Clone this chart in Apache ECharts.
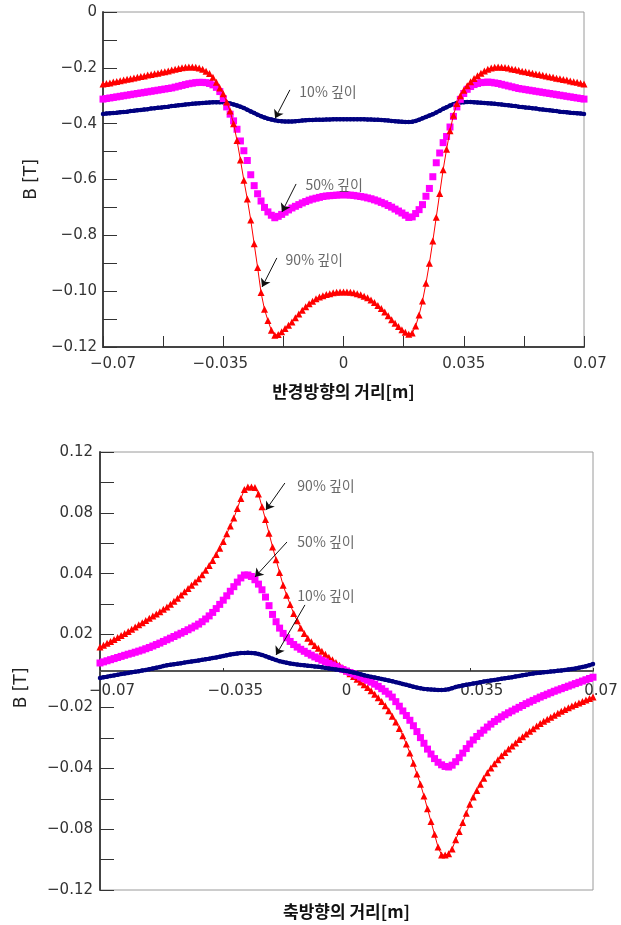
<!DOCTYPE html>
<html>
<head>
<meta charset="utf-8">
<script src="https://cdn.jsdelivr.net/npm/echarts@6/dist/echarts.min.js"></script>
<style>
html, body { margin: 0; padding: 0; background: #fff; }
#chart { width: 621px; height: 925px; }
</style>
</head>
<body>
<div id="chart"></div>
<script>
// 거리 [m], 0.001 간격
var xs = [
  -0.070,-0.069,-0.068,-0.067,-0.066,-0.065,-0.064,-0.063,-0.062,-0.061,
  -0.060,-0.059,-0.058,-0.057,-0.056,-0.055,-0.054,-0.053,-0.052,-0.051,
  -0.050,-0.049,-0.048,-0.047,-0.046,-0.045,-0.044,-0.043,-0.042,-0.041,
  -0.040,-0.039,-0.038,-0.037,-0.036,-0.035,-0.034,-0.033,-0.032,-0.031,
  -0.030,-0.029,-0.028,-0.027,-0.026,-0.025,-0.024,-0.023,-0.022,-0.021,
  -0.020,-0.019,-0.018,-0.017,-0.016,-0.015,-0.014,-0.013,-0.012,-0.011,
  -0.010,-0.009,-0.008,-0.007,-0.006,-0.005,-0.004,-0.003,-0.002,-0.001,
  0,
  0.001,0.002,0.003,0.004,0.005,0.006,0.007,0.008,0.009,0.010,
  0.011,0.012,0.013,0.014,0.015,0.016,0.017,0.018,0.019,0.020,
  0.021,0.022,0.023,0.024,0.025,0.026,0.027,0.028,0.029,0.030,
  0.031,0.032,0.033,0.034,0.035,0.036,0.037,0.038,0.039,0.040,
  0.041,0.042,0.043,0.044,0.045,0.046,0.047,0.048,0.049,0.050,
  0.051,0.052,0.053,0.054,0.055,0.056,0.057,0.058,0.059,0.060,
  0.061,0.062,0.063,0.064,0.065,0.066,0.067,0.068,0.069,0.070
];

// 반경방향 (위 그래프)
var top10 = [
  -0.365,-0.364,-0.363,-0.362,-0.361,-0.359,-0.358,-0.357,-0.355,-0.354,
  -0.352,-0.351,-0.349,-0.348,-0.346,-0.345,-0.343,-0.342,-0.340,-0.339,
  -0.337,-0.336,-0.334,-0.333,-0.331,-0.330,-0.329,-0.328,-0.327,-0.326,
  -0.325,-0.324,-0.323,-0.323,-0.323,-0.323,-0.325,-0.328,-0.331,-0.335,
  -0.339,-0.344,-0.350,-0.356,-0.362,-0.368,-0.373,-0.378,-0.382,-0.385,
  -0.388,-0.390,-0.391,-0.392,-0.392,-0.392,-0.391,-0.390,-0.389,-0.388,
  -0.387,-0.387,-0.386,-0.386,-0.386,-0.385,-0.385,-0.384,-0.384,-0.384,
  -0.384,
  -0.384,-0.384,-0.384,-0.384,-0.384,-0.384,-0.385,-0.385,-0.386,-0.386,
  -0.387,-0.388,-0.389,-0.390,-0.391,-0.392,-0.393,-0.394,-0.394,-0.393,
  -0.390,-0.386,-0.381,-0.376,-0.371,-0.366,-0.360,-0.354,-0.347,-0.341,
  -0.335,-0.330,-0.326,-0.324,-0.323,-0.322,-0.322,-0.323,-0.324,-0.325,
  -0.326,-0.327,-0.328,-0.329,-0.330,-0.331,-0.333,-0.334,-0.336,-0.337,
  -0.339,-0.340,-0.342,-0.343,-0.345,-0.346,-0.348,-0.349,-0.351,-0.352,
  -0.354,-0.355,-0.357,-0.358,-0.359,-0.361,-0.362,-0.363,-0.364,-0.365
];
var top50 = [
  -0.312,-0.310,-0.308,-0.306,-0.304,-0.302,-0.300,-0.298,-0.296,-0.294,
  -0.292,-0.290,-0.288,-0.286,-0.284,-0.282,-0.280,-0.278,-0.276,-0.274,
  -0.272,-0.269,-0.266,-0.263,-0.260,-0.257,-0.255,-0.253,-0.252,-0.252,
  -0.253,-0.256,-0.261,-0.270,-0.285,-0.310,-0.340,-0.366,-0.390,-0.420,
  -0.462,-0.497,-0.532,-0.583,-0.622,-0.651,-0.677,-0.700,-0.716,-0.728,
  -0.737,-0.732,-0.725,-0.717,-0.709,-0.702,-0.696,-0.690,-0.684,-0.679,
  -0.674,-0.670,-0.667,-0.664,-0.661,-0.659,-0.658,-0.657,-0.656,-0.655,
  -0.655,
  -0.655,-0.656,-0.657,-0.659,-0.661,-0.663,-0.666,-0.669,-0.673,-0.677,
  -0.682,-0.687,-0.693,-0.699,-0.706,-0.713,-0.720,-0.728,-0.736,-0.734,
  -0.722,-0.708,-0.690,-0.660,-0.632,-0.590,-0.540,-0.505,-0.468,-0.446,
  -0.412,-0.374,-0.340,-0.313,-0.292,-0.277,-0.267,-0.260,-0.256,-0.253,
  -0.252,-0.251,-0.252,-0.254,-0.256,-0.259,-0.262,-0.265,-0.268,-0.271,
  -0.274,-0.276,-0.278,-0.280,-0.282,-0.284,-0.286,-0.288,-0.290,-0.292,
  -0.294,-0.296,-0.298,-0.300,-0.302,-0.304,-0.306,-0.308,-0.310,-0.312
];
var top90 = [
  -0.258,-0.256,-0.254,-0.251,-0.249,-0.246,-0.244,-0.241,-0.239,-0.236,
  -0.234,-0.231,-0.229,-0.226,-0.224,-0.221,-0.219,-0.216,-0.214,-0.211,
  -0.208,-0.205,-0.202,-0.200,-0.198,-0.197,-0.197,-0.198,-0.201,-0.205,
  -0.212,-0.220,-0.234,-0.252,-0.272,-0.293,-0.322,-0.355,-0.400,-0.460,
  -0.530,-0.603,-0.670,-0.745,-0.830,-0.915,-1.005,-1.065,-1.105,-1.140,
  -1.158,-1.155,-1.145,-1.134,-1.122,-1.110,-1.095,-1.082,-1.068,-1.056,
  -1.045,-1.036,-1.027,-1.021,-1.016,-1.012,-1.009,-1.006,-1.004,-1.003,
  -1.003,
  -1.003,-1.004,-1.006,-1.009,-1.013,-1.018,-1.024,-1.032,-1.041,-1.051,
  -1.062,-1.075,-1.088,-1.102,-1.115,-1.127,-1.138,-1.147,-1.154,-1.150,
  -1.125,-1.085,-1.035,-0.972,-0.900,-0.820,-0.735,-0.650,-0.565,-0.492,
  -0.425,-0.370,-0.328,-0.300,-0.280,-0.264,-0.250,-0.238,-0.228,-0.219,
  -0.211,-0.205,-0.201,-0.198,-0.197,-0.198,-0.199,-0.201,-0.204,-0.206,
  -0.209,-0.212,-0.214,-0.217,-0.219,-0.222,-0.224,-0.227,-0.229,-0.232,
  -0.234,-0.237,-0.239,-0.242,-0.244,-0.247,-0.250,-0.252,-0.255,-0.258
];

// 축방향 (아래 그래프)
var bot10 = [
  -0.0038,-0.0034,-0.0031,-0.0027,-0.0024,-0.0021,-0.0017,-0.0014,-0.0011,-0.0007,
  -0.0004,-0.0001,0.0003,0.0006,0.0010,0.0014,0.0018,0.0022,0.0027,0.0031,
  0.0034,0.0037,0.0040,0.0043,0.0046,0.0049,0.0052,0.0055,0.0058,0.0061,
  0.0064,0.0067,0.0071,0.0074,0.0078,0.0082,0.0086,0.0090,0.0093,0.0096,
  0.0098,0.0099,0.0100,0.0099,0.0097,0.0093,0.0088,0.0081,0.0074,0.0067,
  0.0060,0.0054,0.0049,0.0045,0.0041,0.0038,0.0035,0.0033,0.0031,0.0029,
  0.0027,0.0025,0.0023,0.0020,0.0017,0.0014,0.0011,0.0008,0.0005,0.0003,
  0,
  -0.0004,-0.0008,-0.0013,-0.0018,-0.0023,-0.0028,-0.0032,-0.0036,-0.0040,-0.0044,
  -0.0048,-0.0052,-0.0056,-0.0061,-0.0066,-0.0071,-0.0076,-0.0081,-0.0086,-0.0091,
  -0.0095,-0.0098,-0.0100,-0.0102,-0.0103,-0.0104,-0.0104,-0.0103,-0.0100,-0.0094,
  -0.0088,-0.0083,-0.0079,-0.0075,-0.0072,-0.0069,-0.0066,-0.0062,-0.0058,-0.0055,
  -0.0052,-0.0049,-0.0046,-0.0043,-0.0040,-0.0037,-0.0034,-0.0030,-0.0027,-0.0023,
  -0.0020,-0.0017,-0.0014,-0.0011,-0.0009,-0.0007,-0.0005,-0.0003,-0.0001,0.0001,
  0.0003,0.0005,0.0008,0.0011,0.0014,0.0018,0.0022,0.0026,0.0032,0.0038
];
var bot50 = [
  0.0044,0.0050,0.0056,0.0062,0.0068,0.0074,0.0080,0.0086,0.0092,0.0097,
  0.0103,0.0109,0.0115,0.0122,0.0129,0.0137,0.0145,0.0153,0.0162,0.0171,
  0.0180,0.0189,0.0198,0.0207,0.0216,0.0226,0.0236,0.0246,0.0257,0.0270,
  0.0285,0.0302,0.0321,0.0342,0.0365,0.0388,0.0412,0.0437,0.0462,0.0487,
  0.0510,0.0526,0.0526,0.0518,0.0500,0.0476,0.0445,0.0405,0.0358,0.0310,
  0.0270,0.0235,0.0206,0.0182,0.0162,0.0145,0.0131,0.0119,0.0108,0.0097,
  0.0087,0.0077,0.0068,0.0059,0.0050,0.0041,0.0033,0.0025,0.0016,0.0008,
  0,
  -0.0008,-0.0016,-0.0024,-0.0033,-0.0042,-0.0051,-0.0061,-0.0072,-0.0084,-0.0097,
  -0.0111,-0.0126,-0.0143,-0.0168,-0.0193,-0.0219,-0.0244,-0.0270,-0.0300,-0.0332,
  -0.0365,-0.0396,-0.0428,-0.0455,-0.0480,-0.0500,-0.0514,-0.0523,-0.0526,-0.0516,
  -0.0497,-0.0475,-0.0450,-0.0425,-0.0400,-0.0378,-0.0359,-0.0341,-0.0324,-0.0307,
  -0.0291,-0.0277,-0.0264,-0.0251,-0.0240,-0.0229,-0.0219,-0.0209,-0.0199,-0.0189,
  -0.0179,-0.0170,-0.0161,-0.0152,-0.0143,-0.0135,-0.0127,-0.0119,-0.0111,-0.0104,
  -0.0097,-0.0090,-0.0083,-0.0076,-0.0069,-0.0062,-0.0055,-0.0048,-0.0041,-0.0034
];
var bot90 = [
  0.0131,0.0141,0.0152,0.0162,0.0173,0.0183,0.0194,0.0205,0.0217,0.0229,
  0.0241,0.0253,0.0265,0.0277,0.0289,0.0301,0.0313,0.0325,0.0338,0.0351,
  0.0366,0.0382,0.0399,0.0416,0.0434,0.0452,0.0470,0.0488,0.0506,0.0528,
  0.0552,0.0578,0.0606,0.0638,0.0672,0.0710,0.0752,0.0795,0.0838,0.0890,
  0.0945,0.0995,0.1008,0.1008,0.1005,0.0970,0.0900,0.0830,0.0755,0.0680,
  0.0610,0.0540,0.0470,0.0415,0.0365,0.0315,0.0275,0.0235,0.0205,0.0180,
  0.0160,0.0140,0.0124,0.0108,0.0092,0.0076,0.0062,0.0047,0.0031,0.0016,
  0,
  -0.0015,-0.0030,-0.0045,-0.0060,-0.0075,-0.0091,-0.0108,-0.0127,-0.0147,-0.0167,
  -0.0190,-0.0218,-0.0248,-0.0280,-0.0315,-0.0355,-0.0400,-0.0449,-0.0505,-0.0565,
  -0.0620,-0.0685,-0.0755,-0.0825,-0.0895,-0.0965,-0.1008,-0.1008,-0.1002,-0.0975,
  -0.0925,-0.0880,-0.0830,-0.0780,-0.0730,-0.0690,-0.0655,-0.0620,-0.0588,-0.0558,
  -0.0532,-0.0508,-0.0486,-0.0465,-0.0446,-0.0428,-0.0411,-0.0394,-0.0376,-0.0360,
  -0.0345,-0.0330,-0.0316,-0.0302,-0.0288,-0.0276,-0.0264,-0.0253,-0.0242,-0.0231,
  -0.0221,-0.0211,-0.0201,-0.0192,-0.0183,-0.0175,-0.0167,-0.0159,-0.0151,-0.0143
];

// 눈금
var xTickVals = [-0.07, -0.0525, -0.035, -0.0175, 0, 0.0175, 0.035, 0.0525, 0.07];
var xLabelVals = [-0.07, -0.035, 0, 0.035, 0.07];
var xLabelText = ['−0.07', '−0.035', '0', '0.035', '0.07'];
var topYTickVals = [0, -0.1, -0.2, -0.3, -0.4, -0.5, -0.6, -0.7, -0.8, -0.9, -1.0, -1.1, -1.2];
var topYLabelVals = [0, -0.2, -0.4, -0.6, -0.8, -1.0, -1.2];
var topYLabelText = ['0', '−0.2', '−0.4', '−0.6', '−0.8', '−0.10', '−0.12'];
var botYTickVals = [0.12, 0.1033, 0.0867, 0.07, 0.0533, 0.0367, 0.02,
                    -0.02, -0.0367, -0.0533, -0.07, -0.0867, -0.1033, -0.12];
var botYLabelVals = [0.12, 0.0867, 0.0533, 0.02, -0.02, -0.0533, -0.0867, -0.12];
var botYLabelText = ['0.12', '0.08', '0.04', '0.02', '−0.02', '−0.04', '−0.08', '−0.12'];

// 깊이 표시: [글자 x, 글자 y, 화살표 시작 x, y, 화살표 끝 x, y]
var depthNames = ['10% 깊이', '50% 깊이', '90% 깊이'];
var topNotes = [
  [-0.0130, -0.287, -0.0156, -0.279, -0.0199, -0.381],
  [-0.0112, -0.620, -0.0138, -0.616, -0.0179, -0.716],
  [-0.0170, -0.888, -0.0194, -0.881, -0.0237, -0.985]
];
var botNotes = [
  [-0.0141, 0.0411, -0.0118, 0.0362, -0.0200, 0.0088],
  [-0.0141, 0.0707, -0.0169, 0.0707, -0.0260, 0.0515],
  [-0.0141, 0.1014, -0.0175, 0.1030, -0.0229, 0.0882]
];

var chart = echarts.init(document.getElementById('chart'));

var numFont = 'DejaVu Sans';
var krFont = '"Noto Sans CJK KR", "DejaVu Sans", sans-serif';

function pairs(ys) {
  return xs.map(function (x, i) { return [x, ys[i]]; });
}

function labelFor(vals, texts) {
  return function (v) {
    for (var i = 0; i < vals.length; i++) {
      if (Math.abs(vals[i] - v) < 1e-6) return texts[i];
    }
    return '';
  };
}

// x축 글자를 조금씩 옆으로 밀기
function xLabelRich(offsets) {
  var rich = {};
  offsets.forEach(function (o, i) {
    rich['o' + i] = {
      fontFamily: numFont, fontSize: 15, color: '#333',
      padding: o >= 0 ? [0, 0, 0, 2 * o] : [0, -2 * o, 0, 0]
    };
  });
  return rich;
}
function xLabelFmt(v) {
  for (var i = 0; i < xLabelVals.length; i++) {
    if (Math.abs(xLabelVals[i] - v) < 1e-6) return '{o' + i + '|' + xLabelText[i] + '}';
  }
  return '';
}

function depthSeries(name, grid, vals, color, symbol, size, lineW, lineOpacity, z) {
  return {
    name: name, type: 'line', xAxisIndex: grid, yAxisIndex: grid,
    data: pairs(vals), symbol: symbol, symbolSize: size,
    itemStyle: { color: color },
    lineStyle: { color: color, width: lineW, opacity: lineOpacity },
    silent: true, z: z
  };
}

function noteSeries(grid, notes) {
  return {
    type: 'scatter', xAxisIndex: grid, yAxisIndex: grid, silent: true, z: 10,
    symbolSize: 1, itemStyle: { color: 'rgba(0,0,0,0)' },
    data: notes.map(function (n, i) { return [n[0], n[1], depthNames[i]]; }),
    label: {
      show: true, position: 'right', distance: 0,
      formatter: function (p) { return p.data[2]; },
      fontFamily: krFont, fontSize: 14, color: '#444'
    },
    markLine: {
      silent: true, symbol: ['none', 'arrow'], symbolSize: 8,
      label: { show: false },
      lineStyle: { type: 'solid', color: '#111', width: 1 },
      emphasis: { disabled: true },
      data: notes.map(function (n) {
        return [{ coord: [n[2], n[3]] }, { coord: [n[4], n[5]] }];
      })
    }
  };
}

var axisText = { fontFamily: numFont, fontSize: 15, color: '#333' };

chart.setOption({
  animation: false,
  backgroundColor: '#fff',
  grid: [
    { left: 103, top: 12, width: 481, height: 335, show: true, borderColor: '#9a9a9a',
      borderWidth: 1, containLabel: false, outerBoundsMode: 'none' },
    { left: 100, top: 452, width: 493, height: 438, show: true, borderColor: '#9a9a9a',
      borderWidth: 1, containLabel: false, outerBoundsMode: 'none' }
  ],
  xAxis: [
    {
      gridIndex: 0, type: 'value', min: -0.07, max: 0.07, interval: 0.0175,
      name: '반경방향의 거리[m]', nameLocation: 'middle', nameGap: 36,
      nameTextStyle: { fontFamily: krFont, fontSize: 17, fontWeight: 'bold', color: '#111' },
      axisLine: { onZero: false, lineStyle: { color: '#444', width: 2 } },
      axisTick: { inside: true, length: 11, customValues: xTickVals, lineStyle: { color: '#333', width: 1 } },
      axisLabel: { customValues: xLabelVals, margin: 10, formatter: xLabelFmt,
                   rich: xLabelRich([10, -3, 0, 0, 6]) },
      splitLine: { show: false }
    },
    {
      // 선은 0 위치로, 글자는 선 바로 아래로
      gridIndex: 1, type: 'value', min: -0.07, max: 0.07, interval: 0.035,
      name: '축방향의 거리[m]', nameLocation: 'middle', nameGap: 13,
      nameTextStyle: { fontFamily: krFont, fontSize: 17, fontWeight: 'bold', color: '#111' },
      axisLine: { onZero: true, lineStyle: { color: '#555', width: 2 } },
      axisTick: { inside: true, length: 3, lineStyle: { color: '#333', width: 1 } },
      axisLabel: { customValues: xLabelVals, margin: -206, formatter: xLabelFmt,
                   rich: xLabelRich([12, 12, 0, 12, 8]) },
      splitLine: { show: false }
    }
  ],
  yAxis: [
    {
      gridIndex: 0, type: 'value', min: -1.2, max: 0, interval: 0.1,
      name: 'B [T]', nameLocation: 'middle', nameGap: 59,
      nameTextStyle: { fontFamily: numFont, fontSize: 17, color: '#222' },
      axisLine: { show: true, onZero: false, lineStyle: { color: '#444', width: 2 } },
      axisTick: { show: true, inside: true, length: 14, customValues: topYTickVals,
                  lineStyle: { color: '#333', width: 1 } },
      axisLabel: Object.assign({ customValues: topYLabelVals, margin: 6,
                  formatter: labelFor(topYLabelVals, topYLabelText) }, axisText),
      splitLine: { show: false }
    },
    {
      gridIndex: 1, type: 'value', min: -0.12, max: 0.12,
      name: 'B [T]', nameLocation: 'middle', nameGap: 70,
      nameTextStyle: { fontFamily: numFont, fontSize: 17, color: '#222', padding: [0, 34, 0, 0] },
      axisLine: { show: true, onZero: false, lineStyle: { color: '#444', width: 2 } },
      axisTick: { show: true, inside: true, length: 14, customValues: botYTickVals,
                  lineStyle: { color: '#333', width: 1 } },
      axisLabel: Object.assign({ customValues: botYLabelVals, margin: 7,
                  formatter: labelFor(botYLabelVals, botYLabelText) }, axisText),
      splitLine: { show: false }
    }
  ],
  series: [
    depthSeries('10%', 0, top10, '#000080', 'circle', 4.5, 4, 1, 2),
    depthSeries('50%', 0, top50, '#ff00ff', 'rect', 7, 1, 0, 3),
    depthSeries('90%', 0, top90, '#ff0000', 'triangle', 7, 1, 1, 4),
    noteSeries(0, topNotes),
    depthSeries('90%', 1, bot90, '#ff0000', 'triangle', 7, 1, 1, 2),
    depthSeries('50%', 1, bot50, '#ff00ff', 'rect', 7, 1, 0, 3),
    depthSeries('10%', 1, bot10, '#000080', 'circle', 4.5, 4, 1, 4),
    noteSeries(1, botNotes)
  ]
});
</script>
</body>
</html>
